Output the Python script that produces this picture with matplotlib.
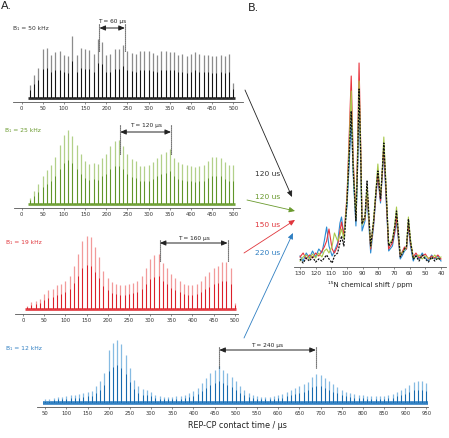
import numpy as np
import matplotlib
matplotlib.use('Agg')
import matplotlib.pyplot as plt
from matplotlib.patches import FancyArrowPatch

W, H = 449, 438

# REP-CP build-up curves: contact time (us) and spike height (a.u.)
t_50 = list(range(20, 510, 10))
h_50 = [13, 23, 30, 49, 50, 43, 46, 47, 43, 42, 62, 43, 50, 49, 48, 44, 59, 56, 43, 44,
        49, 49, 53, 47, 45, 44, 47, 47, 47, 45, 43, 47, 47, 46, 46, 43, 44, 42, 44, 46,
        44, 43, 43, 42, 42, 43, 42, 44, 15]

t_25 = list(range(20, 510, 10))
h_25 = [6, 13, 20, 28, 34, 39, 47, 59, 69, 74, 68, 59, 50, 43, 40, 41, 40, 46, 50, 58,
        63, 64, 58, 50, 45, 43, 38, 38, 39, 42, 46, 50, 52, 55, 46, 42, 40, 39, 38, 37,
        38, 39, 43, 47, 47, 46, 42, 39, 39]

t_19 = list(range(10, 510, 10))
h_19 = [3, 7, 8, 10, 15, 19, 20, 24, 25, 28, 33, 43, 55, 68, 73, 72, 62, 52, 38, 31,
        27, 25, 24, 24, 25, 26, 28, 33, 41, 50, 54, 55, 46, 41, 35, 31, 28, 25, 24, 24,
        25, 28, 33, 37, 41, 43, 47, 47, 41, 6]

t_12 = list(range(50, 960, 10))
h_12 = [4, 4, 5, 6, 6, 7, 8, 8, 9, 10, 11, 12, 17, 22, 30, 53, 60, 63, 59, 48,
        35, 23, 17, 14, 13, 11, 8, 7, 6, 6, 6, 7, 7, 8, 10, 12, 15, 20, 25, 30,
        33, 37, 33, 30, 26, 22, 17, 13, 10, 8, 7, 6, 6, 6, 7, 8, 9, 11, 13, 15,
        17, 19, 21, 26, 29, 28, 25, 22, 19, 16, 13, 11, 10, 9, 8, 8, 7, 7, 7, 7,
        7, 8, 9, 11, 13, 15, 18, 21, 22, 22, 20]

b1_labels = ['B₁ = 50 kHz', 'B₁ = 25 kHz', 'B₁ = 19 kHz', 'B₁ = 12 kHz']
period_labels = ['T = 60 µs', 'T = 120 µs', 'T = 160 µs', 'T = 240 µs']
period_marks = [(184, 244), (233, 353), (323, 483), (461, 689)]
arrow_labels = ['120 us', '120 us', '150 us', '220 us']

# 15N spectra at the optimum contact times
ppm = [130, 128, 126, 124, 122, 120, 118, 116, 114.5, 113, 111.5, 109.5, 108, 106, 104.5,
       103.5, 102, 100, 98.5, 97.3, 96, 94.3, 93.2, 92.3, 91.3, 90.4, 88.5, 87.2, 86, 84.9,
       83, 81.5, 80.3, 79.4, 78.6, 77.5, 76.5, 75, 73.4, 71, 69.5, 68.4, 67, 66, 64.5,
       63.3, 62, 60.8, 59.5, 57.7, 56, 54, 52, 50, 48, 46, 44, 42, 40]
spec_12 = [5, 0, 8, 3, 10, 4, 12, 8, 20, 34, 15, 5, 10, 18, 38,
           44, 25, 55, 100, 145, 85, 35, 95, 165, 100, 30, 40, 65, 35, 8,
           35, 65, 85, 70, 58, 85, 110, 60, 10, 15, 28, 40, 18, 2, 6,
           10, 12, 35, 15, 0, 6, 2, 8, 3, 0, 6, 2, 5, 0]
spec_19 = [4, 8, 2, 6, 3, 8, 5, 10, 14, 20, 32, 12, 8, 15, 30,
           39, 25, 65, 130, 185, 100, 45, 115, 198, 120, 38, 42, 72, 40, 12,
           38, 68, 88, 72, 60, 88, 115, 65, 12, 18, 30, 45, 20, 5, 10,
           14, 12, 38, 18, 4, 8, 3, 5, 7, 2, 5, 3, 6, 2]
spec_25 = [0, 4, 6, 2, 7, 3, 8, 4, 10, 12, 8, 15, 28, 20, 26,
           32, 22, 62, 120, 170, 95, 42, 108, 180, 115, 36, 44, 75, 42, 14,
           42, 72, 97, 78, 63, 92, 124, 72, 16, 22, 36, 54, 24, 6, 9,
           11, 14, 44, 22, 3, 4, 6, 2, 5, 3, 2, 6, 2, 4]
spec_50 = [2, -2, 3, 0, 4, -1, 2, 0, 3, 6, 2, -2, 5, 8, 18,
           25, 15, 60, 110, 150, 90, 40, 100, 172, 110, 37, 45, 80, 45, 15,
           40, 70, 90, 75, 62, 90, 118, 70, 15, 20, 35, 50, 25, 4, 8,
           12, 15, 42, 20, 2, 5, 0, 6, 2, -1, 4, 0, 3, 1]

dark = ['#111111', '#5e9426', '#dc1c26', '#1468ad']
light = ['#8c8c8c', '#b2d089', '#f29a9a', '#86bbe2']
band = ['#222222', '#6e9e34', '#e2343c', '#2f7fc2']
txt_col = ['#333333', '#6a9a2e', '#e0363c', '#2f7fc2']

fig = plt.figure(figsize=(W / 100, H / 100), dpi=100)


def px_axes(left, top, right, bottom):
    return fig.add_axes([left / W, 1 - bottom / H, (right - left) / W, (bottom - top) / H])


def fig_xy(x, y):
    return x / W, 1 - y / H


# panel layout in pixels: left, right, axis line, spike baseline, top, x origin, label row
panels = [
    dict(left=13, right=243, axis=102, base=98, top=10, x0=21.5, lab=(13, 28), ann=(21, 28, 20, 52)),
    dict(left=14, right=240, axis=208, base=204, top=115, x0=21.5, lab=(5, 131), ann=(126, 132, 125, 155)),
    dict(left=15, right=238, axis=314, base=309, top=225, x0=23, lab=(6, 243), ann=(238, 243, 240, 262)),
    dict(left=37, right=428, axis=407, base=403, top=330, x0=24, lab=(6, 348), ann=(345, 350, 347, 368)),
]
times = [t_50, t_25, t_19, t_12]
heights = [h_50, h_25, h_19, h_12]
scale = 0.4236

for i, p in enumerate(panels):
    ax = px_axes(p['left'], p['top'], p['right'], p['axis'])
    t = np.array(times[i])
    h = np.array(heights[i])
    ax.plot([t[0] - 5, t[-1] + 3], [0, 0], color=band[i], lw=1.9 if i < 3 else 2.6,
            solid_capstyle='butt', zorder=1)
    ax.vlines(t, 0, h, color=light[i], lw=0.9, zorder=2)
    ax.vlines(t, 0, h * 0.6, color=dark[i], lw=0.7, zorder=3)
    ax.set_xlim((p['left'] - p['x0']) / scale, (p['right'] - p['x0']) / scale)
    ax.set_ylim(p['base'] - p['axis'], p['base'] - p['top'])
    if i < 3:
        ax.set_xticks(range(0, 550, 50))
    else:
        ax.set_xticks(range(50, 1000, 50))
    ax.set_yticks([])
    for s in ['top', 'right', 'left']:
        ax.spines[s].set_visible(False)
    ax.spines['bottom'].set_color('#555555')
    ax.spines['bottom'].set_linewidth(0.6)
    ax.tick_params(axis='x', labelsize=3.8, length=1.5, width=0.4, pad=1.2,
                   colors='#333333')
    ax.patch.set_alpha(0)

    # period annotation
    ta, tb = period_marks[i]
    y_txt, y_arr, y_dot0, y_dot1 = p['ann']
    b = p['base']
    for tm in (ta, tb):
        ax.plot([tm, tm], [b - y_dot0, b - y_dot1], ls=(0, (1, 0.8)), color='#222222',
                lw=0.8, clip_on=False, zorder=5)
    ax.annotate('', xy=(ta, b - y_arr), xytext=(tb, b - y_arr),
                arrowprops=dict(arrowstyle='<|-|>,head_length=0.35,head_width=0.15',
                                color='#222222', lw=0.7, shrinkA=0, shrinkB=0),
                annotation_clip=False, zorder=6)
    ax.text((ta + tb) / 2, b - y_txt, period_labels[i], ha='center', va='center',
            fontsize=4.2, color='#222222', zorder=7,
            bbox=dict(facecolor='white', edgecolor='none', pad=0.3))

    lx, ly = p['lab']
    fig.text(*fig_xy(lx, ly), b1_labels[i], fontsize=4.3, color=txt_col[i],
             ha='left', va='center')

fig.text(*fig_xy(237, 425), 'REP-CP contact time / µs', fontsize=5.8, color='#222222',
         ha='center', va='center')

# panel B: spectra
axb = px_axes(294, 40, 446, 267)
axb.plot(ppm, spec_12, color='#2b8bd2', lw=0.8, zorder=2)
axb.plot(ppm, spec_19, color='#e8333c', lw=0.8, zorder=3)
axb.plot(ppm, spec_25, color='#a9c94c', lw=0.8, zorder=4)
axb.plot(ppm, spec_50, color='#111111', lw=0.9, ls=(0, (1.6, 1.0)), zorder=5)
sb = 141 / 90
axb.set_xlim(130 + (300 - 294) / sb, 40 - (446 - 441) / sb)
axb.set_ylim(261 - 267, 261 - 40)
axb.set_xticks(range(130, 30, -10))
axb.set_yticks([])
for s in ['top', 'right', 'left']:
    axb.spines[s].set_visible(False)
axb.spines['bottom'].set_color('#555555')
axb.spines['bottom'].set_linewidth(0.6)
axb.tick_params(axis='x', labelsize=4.2, length=1.5, width=0.4, pad=1.2, colors='#333333')
axb.patch.set_alpha(0)
fig.text(*fig_xy(370, 285), '¹⁵N chemical shift / ppm', fontsize=5, color='#222222',
         ha='center', va='center')

# arrows linking build-ups to spectra
arrow_paths = [((245, 90), (292, 197)), ((247, 200), (295, 211)),
               ((244, 253), (295, 220)), ((244, 338), (293, 233))]
arrow_text_y = [174, 197, 225, 253]
for i, (p0, p1) in enumerate(arrow_paths):
    fig.add_artist(FancyArrowPatch(fig_xy(*p0), fig_xy(*p1), transform=fig.transFigure,
                                   arrowstyle='-|>,head_length=3.5,head_width=1.6',
                                   mutation_scale=1, color=txt_col[i] if i else '#222222',
                                   lw=0.6, shrinkA=0, shrinkB=0))
    fig.text(*fig_xy(255, arrow_text_y[i]), arrow_labels[i], fontsize=5.4,
             color=txt_col[i], ha='left', va='center')

fig.text(*fig_xy(1, 6), 'A.', fontsize=8, color='#222222', ha='left', va='center')
fig.text(*fig_xy(248, 8), 'B.', fontsize=8, color='#222222', ha='left', va='center')

fig.savefig('out.png', dpi=100)
